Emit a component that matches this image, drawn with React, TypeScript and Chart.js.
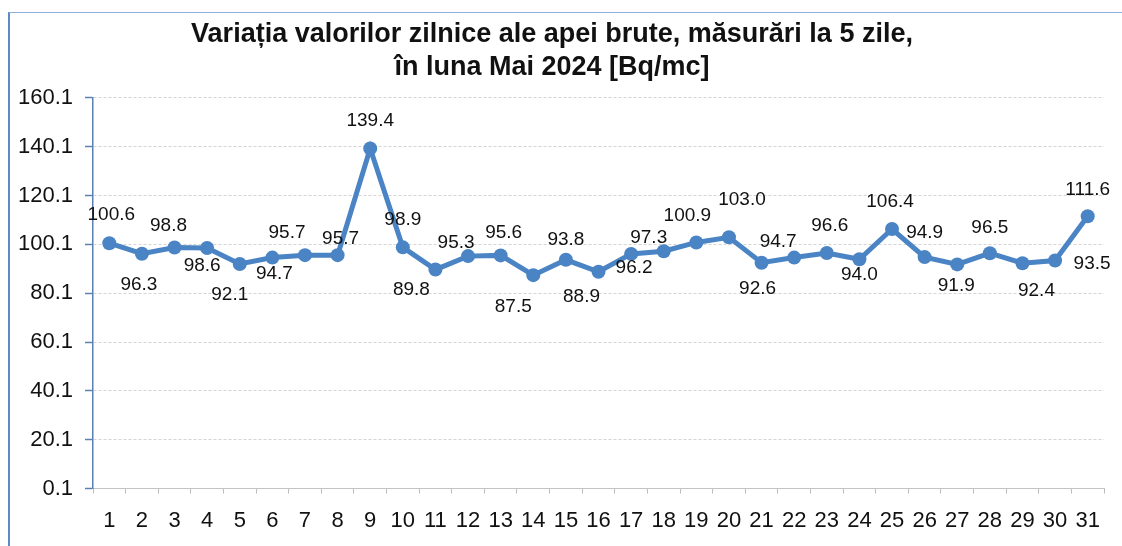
import React, { useEffect, useRef } from "react";
import { Chart, registerables } from "chart.js";

Chart.register(...registerables);

const TITLE_LINES = [
  "Variația valorilor zilnice ale apei brute, măsurări la 5 zile,",
  "în luna Mai 2024 [Bq/mc]",
];

const DAYS = [
  "1", "2", "3", "4", "5", "6", "7", "8", "9", "10", "11", "12", "13", "14", "15", "16",
  "17", "18", "19", "20", "21", "22", "23", "24", "25", "26", "27", "28", "29", "30", "31",
];

const VALUES = [
  100.6, 96.3, 98.8, 98.6, 92.1, 94.7, 95.7, 95.7, 139.4, 98.9, 89.8, 95.3, 95.6, 87.5, 93.8, 88.9,
  96.2, 97.3, 100.9, 103.0, 92.6, 94.7, 96.6, 94.0, 106.4, 94.9, 91.9, 96.5, 92.4, 93.5, 111.6,
];

const Y_TICKS = [0.1, 20.1, 40.1, 60.1, 80.1, 100.1, 120.1, 140.1, 160.1];

// label placement relative to each point (style only), [dx, dy] in px
const LABEL_OFFSETS: [number, number][] = [
  [2, -28], [-3, 31], [-6, -22], [-5, 18], [-10, 31], [2, 16], [-18, -22], [3, -16],
  [0, -28], [0, -28], [-24, 20], [-12, -13], [3, -23], [-20, 32], [0, -20], [-17, 25],
  [3, 14], [-15, -13], [-9, -27], [13, -38], [-4, 26], [-16, -16], [3, -27], [0, 15],
  [-2, -27], [0, -24], [-1, 21], [0, -25], [14, 28], [37, 3], [0, -27],
];

const LINE_COLOR = "#4a84c4";
const SANS = "'Liberation Sans', Arial, sans-serif";

const dataLabels = {
  id: "dataLabels",
  afterDatasetsDraw(chart: any) {
    const ctx = chart.ctx;
    const meta = chart.getDatasetMeta(0);
    ctx.save();
    ctx.font = `19px ${SANS}`;
    ctx.fillStyle = "#111";
    ctx.textAlign = "center";
    ctx.textBaseline = "middle";
    meta.data.forEach((pt: any, i: number) => {
      const [dx, dy] = LABEL_OFFSETS[i] || [0, -25];
      ctx.fillText(VALUES[i].toFixed(1), pt.x + dx, pt.y + dy);
    });
    ctx.restore();
  },
};

export default function App() {
  const ref = useRef<HTMLCanvasElement>(null);

  useEffect(() => {
    if (!ref.current) return;
    const chart = new Chart(ref.current, {
      type: "line",
      data: {
        labels: DAYS,
        datasets: [
          {
            data: VALUES,
            borderColor: LINE_COLOR,
            backgroundColor: LINE_COLOR,
            borderWidth: 5,
            pointRadius: 7,
            pointHoverRadius: 7,
            pointBackgroundColor: LINE_COLOR,
            pointBorderWidth: 0,
            tension: 0,
          },
        ],
      },
      options: {
        animation: false,
        responsive: false,
        layout: { padding: { left: 0, right: 18, top: 0, bottom: -2 } },
        plugins: {
          legend: { display: false },
          tooltip: { enabled: false },
          title: {
            display: true,
            text: TITLE_LINES,
            color: "#111",
            font: { family: SANS, size: 27, weight: "bold", lineHeight: 1.22 },
            padding: { top: 18, bottom: 14 },
          },
        },
        scales: {
          x: {
            offset: true,
            grid: {
              offset: true,
              drawOnChartArea: false,
              tickLength: 5,
              tickColor: "#bdbdbd",
            },
            border: { color: "#c4c4c4", width: 1 },
            ticks: {
              color: "#111",
              font: { family: SANS, size: 22 },
              padding: 14,
              maxRotation: 0,
              autoSkip: false,
            },
          },
          y: {
            min: 0.1,
            max: 160.1,
            afterBuildTicks: (scale: any) => {
              scale.ticks = Y_TICKS.map((v) => ({ value: v }));
            },
            afterFit: (scale: any) => {
              scale.width = 93;
            },
            grid: {
              color: "#d4d4d4",
              lineWidth: 1,
              tickLength: 8,
              tickColor: "#5b80b4",
              tickWidth: 1.5,
            },
            border: { color: "#5b80b4", width: 1.5, dash: [3, 2] },
            ticks: {
              color: "#111",
              font: { family: SANS, size: 22 },
              padding: 12,
              callback: (v: any) => Number(v).toFixed(1),
            },
          },
        },
      },
      plugins: [dataLabels],
    } as any);
    return () => chart.destroy();
  }, []);

  return (
    <div style={{ position: "fixed", left: 0, top: 0, width: 1122, height: 546, background: "#fff" }}>
      <div
        style={{
          position: "absolute",
          left: 8,
          top: 12,
          right: -4,
          bottom: -4,
          borderLeft: "2px solid #5b8ac6",
          borderTop: "1.5px solid #8fb0da",
        }}
      />
      <canvas ref={ref} width={1122} height={546} style={{ position: "absolute", left: 0, top: 0 }} />
    </div>
  );
}
